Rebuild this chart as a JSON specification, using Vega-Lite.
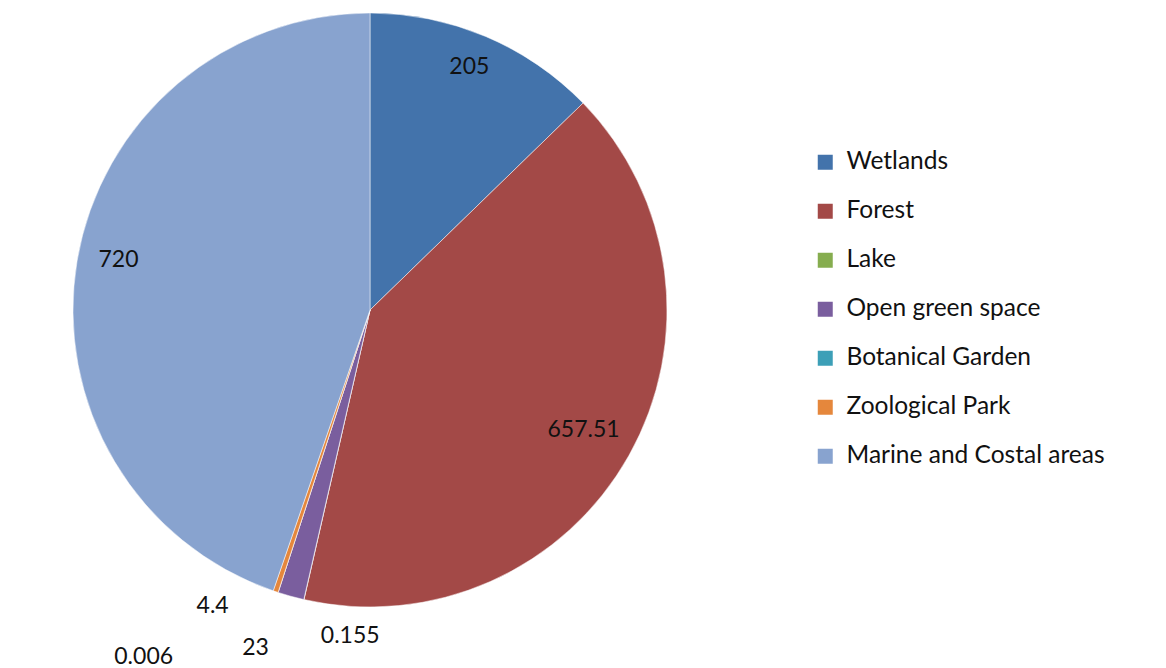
{
  "$schema": "https://vega.github.io/schema/vega-lite/v6.json",
  "width": 740,
  "height": 620,
  "autosize": "none",
  "padding": {"left": 0, "top": 0, "right": 426, "bottom": 48},
  "background": "white",
  "config": {"view": {"stroke": null}, "font": "Lato"},
  "data": {
    "values": [
      {"idx": 1, "category": "Wetlands", "value": 205, "label": "205"},
      {"idx": 2, "category": "Forest", "value": 657.51, "label": "657.51"},
      {"idx": 3, "category": "Lake", "value": 0.155, "label": "0.155"},
      {"idx": 4, "category": "Open green space", "value": 23, "label": "23"},
      {"idx": 5, "category": "Botanical Garden", "value": 0.006, "label": "0.006"},
      {"idx": 6, "category": "Zoological Park", "value": 4.4, "label": "4.4"},
      {"idx": 7, "category": "Marine and Costal areas", "value": 720, "label": "720"}
    ]
  },
  "encoding": {
    "theta": {"field": "value", "type": "quantitative", "stack": true},
    "order": {"field": "idx", "type": "quantitative"}
  },
  "layer": [
    {
      "mark": {"type": "arc", "outerRadius": 297, "stroke": "white", "strokeWidth": 0.5},
      "encoding": {
        "color": {
          "field": "category",
          "type": "nominal",
          "scale": {
            "domain": ["Wetlands", "Forest", "Lake", "Open green space", "Botanical Garden", "Zoological Park", "Marine and Costal areas"],
            "range": ["#4373AB", "#A34947", "#86AD4F", "#7A5E9E", "#3C9FB7", "#E5873C", "#88A3CF"]
          },
          "legend": {
            "title": null,
            "orient": "none",
            "legendX": 813,
            "legendY": 150,
            "symbolType": "square",
            "symbolSize": 225,
            "symbolStrokeWidth": 0,
            "labelFontSize": 24.5,
            "labelFont": "Lato",
            "labelColor": "#111111",
            "rowPadding": 24,
            "labelOffset": 9,
            "labelLimit": 400
          }
        }
      }
    },
    {
      "mark": {"type": "text", "radius": 255, "fontSize": 23, "color": "#111111", "dy": -8},
      "encoding": {"text": {"condition": {"test": "datum.category == 'Wetlands' || datum.category == 'Marine and Costal areas'", "field": "label"}, "value": ""}}
    },
    {
      "mark": {"type": "text", "radius": 245, "fontSize": 23, "color": "#111111"},
      "encoding": {"text": {"condition": {"test": "datum.category == 'Forest'", "field": "label"}, "value": ""}}
    },
    {
      "mark": {"type": "text", "radius": 297, "fontSize": 23, "color": "#111111", "align": "left", "dx": 17, "dy": 36},
      "encoding": {"text": {"condition": {"test": "datum.category == 'Lake'", "field": "label"}, "value": ""}}
    },
    {
      "mark": {"type": "text", "radius": 297, "fontSize": 23, "color": "#111111", "align": "right", "dx": -22, "dy": 52},
      "encoding": {"text": {"condition": {"test": "datum.category == 'Open green space'", "field": "label"}, "value": ""}}
    },
    {
      "mark": {"type": "text", "radius": 297, "fontSize": 23, "color": "#111111", "align": "right", "dx": -105, "dy": 65},
      "encoding": {"text": {"condition": {"test": "datum.category == 'Botanical Garden'", "field": "label"}, "value": ""}}
    },
    {
      "mark": {"type": "text", "radius": 297, "fontSize": 23, "color": "#111111", "align": "right", "dx": -47, "dy": 14},
      "encoding": {"text": {"condition": {"test": "datum.category == 'Zoological Park'", "field": "label"}, "value": ""}}
    }
  ]
}
